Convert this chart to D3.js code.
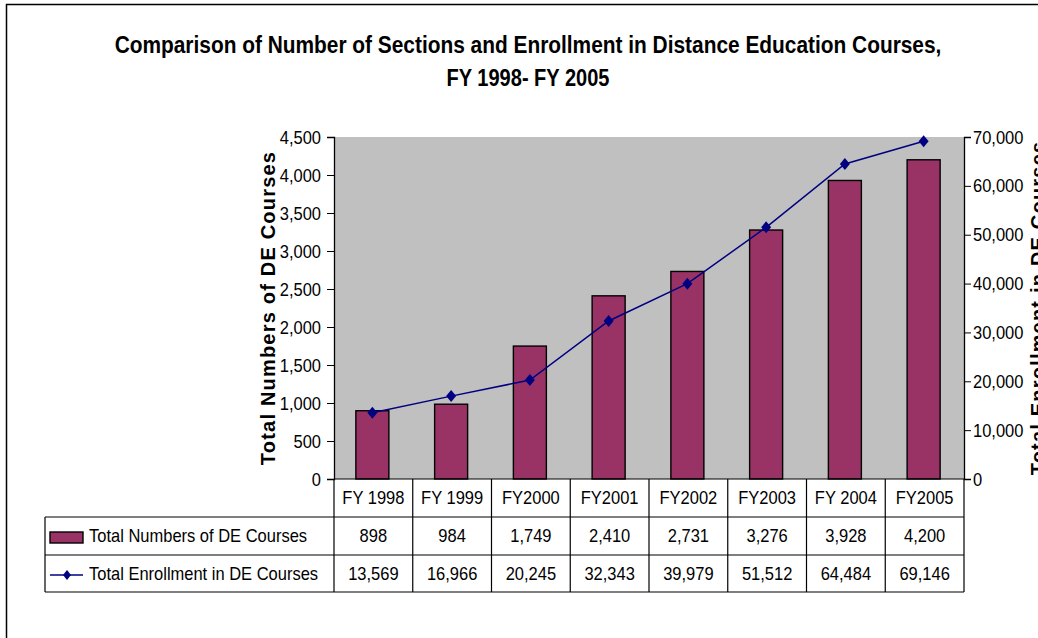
<!DOCTYPE html>
<html>
<head>
<meta charset="utf-8">
<script src="https://cdn.jsdelivr.net/npm/d3@7"></script>
<style>
  html, body { margin: 0; padding: 0; background: #fff; }
  svg { display: block; }
  text { font-family: "Liberation Sans", Arial, sans-serif; fill: #000; }
</style>
</head>
<body>
<svg id="chart" width="1038" height="638"></svg>
<script>
const categories = ["FY 1998", "FY 1999", "FY2000", "FY2001", "FY2002", "FY2003", "FY 2004", "FY2005"];
const courses = [898, 984, 1749, 2410, 2731, 3276, 3928, 4200];
const enrollment = [13569, 16966, 20245, 32343, 39979, 51512, 64484, 69146];
const leftTicks = [0, 500, 1000, 1500, 2000, 2500, 3000, 3500, 4000, 4500];
const rightTicks = [0, 10000, 20000, 30000, 40000, 50000, 60000, 70000];
const seriesNames = ["Total Numbers of DE Courses", "Total Enrollment in DE Courses"];
const titleLines = ["Comparison of Number of Sections and Enrollment in Distance Education Courses,", "FY 1998- FY 2005"];
const leftTitle = "Total Numbers of DE Courses";
const rightTitle = "Total Enrollment in DE Courses";

const svg = d3.select("#chart");
const fmt = d3.format(",");
const SY = 1.15; // vertical stretch of glyphs, as in the reference

const plot = {left: 334, right: 964, top: 137, bottom: 479};
const tableLeft = 45;
const rowH = [479, 517, 555, 592];

function stext(g, x, y, str, size, anchor) {
  return g.append("text")
    .attr("transform", `translate(${x},${y}) scale(1,${SY})`)
    .attr("text-anchor", anchor || "start")
    .attr("font-size", size).text(str);
}

// outer border
svg.append("rect").attr("x", 6.5).attr("y", 4.5).attr("width", 1100).attr("height", 700)
  .attr("fill", "none").attr("stroke", "#000").attr("stroke-width", 1.5);

// title: condensed bold lines scaled to the reference widths
function titleLine(str, y, width) {
  const t = svg.append("text").attr("text-anchor", "middle")
    .attr("font-size", 23.5).attr("font-weight", "bold").text(str);
  const w = t.node().getComputedTextLength();
  t.attr("transform", `translate(528,${y}) scale(${width / w},1)`);
}
titleLine(titleLines[0], 53, 827);
titleLine(titleLines[1], 86, 163);

const x = d3.scaleBand().domain(categories).range([plot.left, plot.right]).paddingInner(0).paddingOuter(0);
const yL = d3.scaleLinear().domain([0, 4500]).range([plot.bottom, plot.top]);
const yR = d3.scaleLinear().domain([0, 70000]).range([plot.bottom, plot.top]);
const cx = c => x(c) + x.bandwidth() / 2 - 1;

// plot area
svg.append("rect").attr("x", plot.left).attr("y", plot.top)
  .attr("width", plot.right - plot.left).attr("height", plot.bottom - plot.top)
  .attr("fill", "#C0C0C0");

// bars
const bw = 33;
svg.append("g").selectAll("rect").data(courses).join("rect")
  .attr("x", (d, i) => cx(categories[i]) - bw / 2)
  .attr("y", d => yL(d))
  .attr("width", bw)
  .attr("height", d => yL(0) - yL(d))
  .attr("fill", "#993366").attr("stroke", "#000").attr("stroke-width", 1.4);

// line
const line = d3.line().x((d, i) => cx(categories[i])).y(d => yR(d));
svg.append("path").datum(enrollment).attr("d", line)
  .attr("fill", "none").attr("stroke", "#000080").attr("stroke-width", 1.5);
const diamondPath = "M0,-6L5,0L0,6L-5,0Z";
svg.append("g").selectAll("path").data(enrollment).join("path")
  .attr("transform", (d, i) => `translate(${cx(categories[i])},${yR(d)})`)
  .attr("d", diamondPath).attr("fill", "#000080");

// left axis
const axL = svg.append("g").attr("transform", `translate(${plot.left},0)`)
  .call(d3.axisLeft(yL).tickValues(leftTicks).tickFormat(fmt).tickSize(7).tickPadding(6));
axL.select(".domain").attr("stroke", "#000").attr("stroke-width", 1.3);
axL.selectAll(".tick line").attr("stroke", "#000");
axL.selectAll(".tick text").attr("font-size", 16.5).attr("font-family", "Liberation Sans, Arial, sans-serif")
  .attr("transform", `scale(1,${SY})`);

// right axis
const axR = svg.append("g").attr("transform", `translate(${plot.right},0)`)
  .call(d3.axisRight(yR).tickValues(rightTicks).tickFormat(fmt).tickSize(7).tickPadding(2));
axR.select(".domain").attr("stroke", "#000").attr("stroke-width", 1.3);
axR.selectAll(".tick line").attr("stroke", "#000");
axR.selectAll(".tick text").attr("font-size", 16.5).attr("font-family", "Liberation Sans, Arial, sans-serif")
  .attr("transform", `scale(1,${SY})`);

// axis titles
svg.append("text").attr("transform", `translate(275,${(plot.top + plot.bottom) / 2}) rotate(-90)`)
  .attr("text-anchor", "middle").attr("font-size", 20).attr("font-weight", "bold")
  .attr("letter-spacing", 1.2).text(leftTitle);
svg.append("text").attr("transform", `translate(1045,${(plot.top + plot.bottom) / 2}) rotate(-90)`)
  .attr("text-anchor", "middle").attr("font-size", 20).attr("font-weight", "bold")
  .attr("letter-spacing", 1.2).text(rightTitle);

// data table
const tg = svg.append("g");
const lineAttrs = s => s.attr("stroke", "#000").attr("stroke-width", 1.2);
tg.append("line").attr("x1", plot.left).attr("x2", plot.right).attr("y1", rowH[0]).attr("y2", rowH[0]).call(lineAttrs);
[1, 2, 3].forEach(r => {
  tg.append("line").attr("x1", tableLeft).attr("x2", plot.right).attr("y1", rowH[r]).attr("y2", rowH[r]).call(lineAttrs);
});
tg.append("line").attr("x1", tableLeft).attr("x2", tableLeft).attr("y1", rowH[1]).attr("y2", rowH[3]).call(lineAttrs);
categories.forEach(c => {
  tg.append("line").attr("x1", x(c)).attr("x2", x(c)).attr("y1", rowH[0]).attr("y2", rowH[3]).call(lineAttrs);
});
tg.append("line").attr("x1", plot.right).attr("x2", plot.right).attr("y1", rowH[0]).attr("y2", rowH[3]).call(lineAttrs);

const fs = 16.5;
categories.forEach((c, i) => {
  stext(tg, cx(c) + 1, rowH[0] + 25, c, fs, "middle");
  stext(tg, cx(c) + 1, rowH[1] + 25, fmt(courses[i]), fs, "middle");
  stext(tg, cx(c) + 1, rowH[2] + 25, fmt(enrollment[i]), fs, "middle");
});

// legend keys
tg.append("rect").attr("x", 50).attr("y", 532).attr("width", 33).attr("height", 11)
  .attr("fill", "#993366").attr("stroke", "#000").attr("stroke-width", 1.4);
stext(tg, 89, rowH[1] + 25, seriesNames[0], fs);
tg.append("line").attr("x1", 50).attr("x2", 83).attr("y1", 575).attr("y2", 575)
  .attr("stroke", "#000080").attr("stroke-width", 1.5);
tg.append("path").attr("transform", "translate(67,575)").attr("d", "M0,-5L4,0L0,5L-4,0Z").attr("fill", "#000080");
stext(tg, 89, rowH[2] + 25, seriesNames[1], fs);
</script>
</body>
</html>
